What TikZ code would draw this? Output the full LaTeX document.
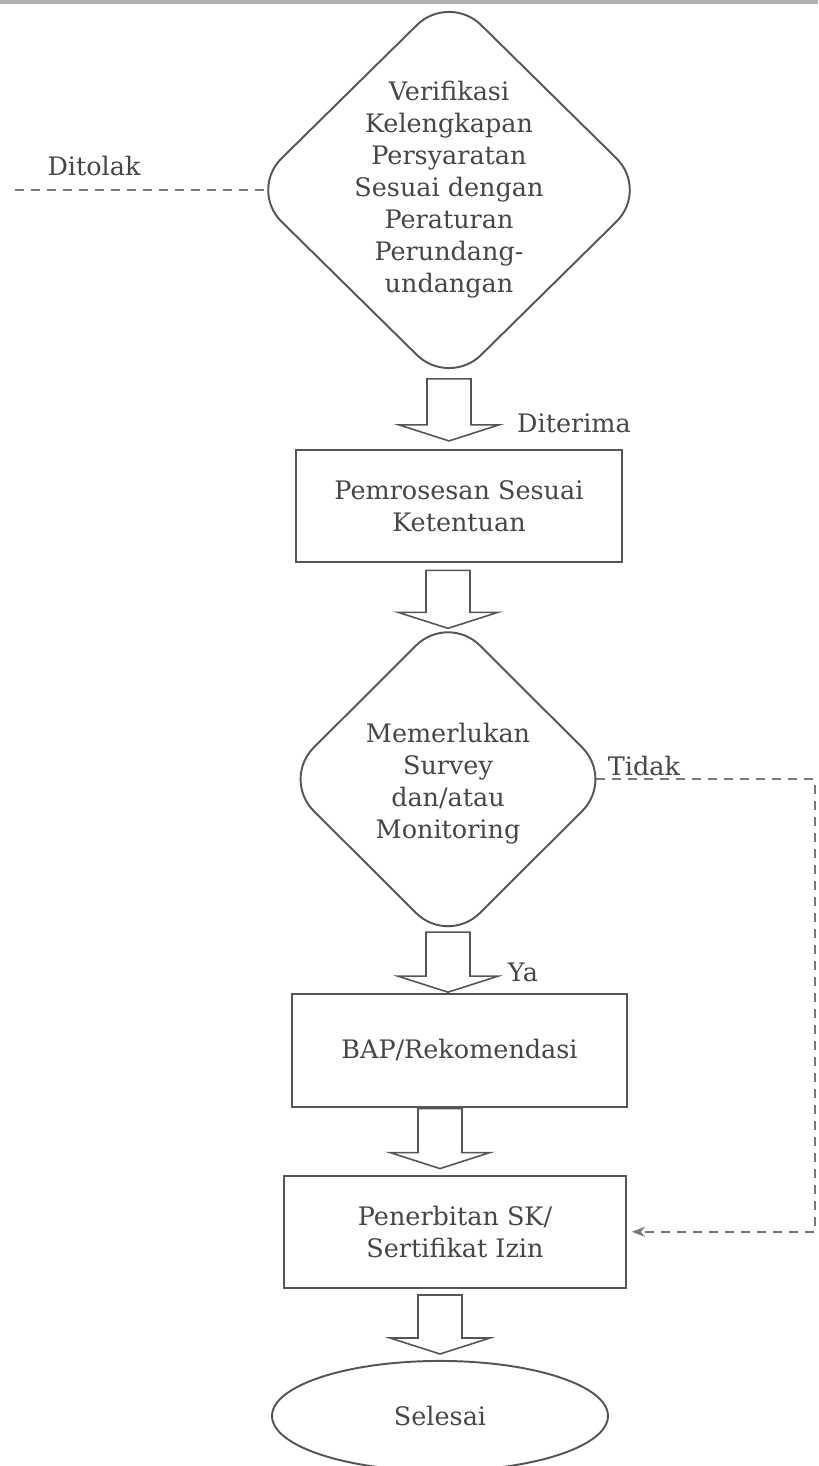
\documentclass[tikz,border=0pt]{standalone}
\usepackage{fontspec}
\setmainfont{DejaVu Serif}
\usetikzlibrary{arrows.meta,positioning,calc,shapes.geometric}
\definecolor{GarisAbu}{RGB}{85,85,85}
\definecolor{TeksAbu}{RGB}{70,70,70}
\definecolor{PutusAbu}{RGB}{120,120,120}
\definecolor{TepiAbu}{RGB}{175,175,175}
\newcommand{\teksalur}{\fontsize{14.5pt}{18.2pt}\selectfont}
% panah blok: dari pangkal (#1) ke ujung (#2), x sama
\newcommand{\panahblok}[2]{%
  \draw[blokpanah] ($(#1)+(-22,0)$) -- ($(#1)+(22,0)$) -- ($(#2)+(22,-16)$)
    -- ($(#2)+(50,-16)$) -- (#2) -- ($(#2)+(-50,-16)$) -- ($(#2)+(-22,-16)$) -- cycle;}
\tikzset{
  prosesbox/.style={draw=GarisAbu, line width=1.1pt, fill=white, align=center,
    minimum width=#1, minimum height=2.25cm, inner sep=3pt, text=TeksAbu, font=\teksalur},
  prosesbox/.default=6.6cm,
  keputusan/.style={diamond, draw=GarisAbu, line width=1.1pt, rounded corners=0.9cm,
    inner sep=0pt},
  selesaibox/.style={ellipse, draw=GarisAbu, line width=1.1pt, minimum width=6.72cm,
    minimum height=2.2cm, inner sep=0pt, text=TeksAbu, font=\teksalur},
  isian/.style={align=center, text=TeksAbu, font=\teksalur, inner sep=0pt},
  ket/.style={text=TeksAbu, font=\teksalur, inner sep=1pt},
  blokpanah/.style={draw=GarisAbu, line width=0.9pt, fill=white, line join=miter},
  garisputus/.style={draw=PutusAbu, line width=1.1pt, dash pattern=on 0.18cm off 0.14cm},
}
\begin{document}
\begin{tikzpicture}[x=0.02cm, y=-0.02cm]
  \useasboundingbox (0,0) rectangle (818,1466);
  \fill[TepiAbu] (0,0) rectangle (818,4);

  \node[keputusan, minimum width=8cm, minimum height=7.88cm] (d1) at (449,190) {};
  \node[isian] (d1teks) at (d1.center) {Verifikasi\\ Kelengkapan\\ Persyaratan\\
    Sesuai dengan\\ Peraturan\\ Perundang-\\ undangan};
  \node[prosesbox=6.52cm, below=1.22cm of d1, xshift=0.2cm] (b1) {Pemrosesan Sesuai\\ Ketentuan};
  \node[keputusan, minimum width=6.66cm, minimum height=6.64cm,
    below=0.98cm of b1, xshift=-0.22cm] (d2) {};
  \node[isian] (d2teks) at ([yshift=-0.08cm]d2.center) {Memerlukan\\ Survey\\ dan/atau\\ Monitoring};
  \node[prosesbox=6.7cm, below=0.94cm of d2, xshift=0.23cm] (b2) {BAP/Rekomendasi};
  \node[prosesbox=6.84cm, below=1.34cm of b2, xshift=-0.09cm] (b3) {Penerbitan SK/\\ Sertifikat Izin};
  \node[selesaibox, below=1.42cm of b3, xshift=-0.3cm] (sel) {Selesai};

  % ujung-ujung panah blok
  \coordinate (p1a) at ($(d1.south)+(0,-9)$);
  \coordinate (p1b) at ($(d1.south |- b1.north)+(0,-8)$);
  \coordinate (p2a) at ($(d2.north |- b1.south)+(0,7)$);
  \coordinate (p2b) at ($(d2.north)+(0,16)$);
  \coordinate (p3a) at ($(d2.south)+(0,-14)$);
  \coordinate (p3b) at ($(d2.south |- b2.north)+(0,-1)$);
  \coordinate (p4a) at ($(sel.north |- b2.south)+(0,1)$);
  \coordinate (p4b) at ($(sel.north |- b3.north)+(0,-6)$);
  \coordinate (p5a) at ($(sel.north |- b3.south)+(0,6)$);
  \coordinate (p5b) at ($(sel.north)+(0,-6)$);
  \foreach \a/\b in {p1a/p1b, p2a/p2b, p3a/p3b, p4a/p4b, p5a/p5b}
    \panahblok{\a}{\b};

  \node[ket] (lterima) at (574,423) {Diterima};
  \node[ket] (lya) at (523,972) {Ya};

  % jalur ditolak
  \coordinate (tolak) at (15,190);
  \draw[garisputus] (tolak) -- ([xshift=0.38cm]d1.west);
  \node[ket] (ltolak) at (94,166) {Ditolak};

  % jalur tidak
  \coordinate (belok) at (815,0);
  \node[ket] (ltidak) at (644,766) {Tidak};
  \draw[garisputus, -{Stealth[length=0.26cm, width=0.2cm]}] ([xshift=-0.38cm]d2.east)
    -- (d2.east -| belok) -- (belok |- b3.east) -- ([xshift=0.1cm]b3.east);
\end{tikzpicture}
\end{document}
